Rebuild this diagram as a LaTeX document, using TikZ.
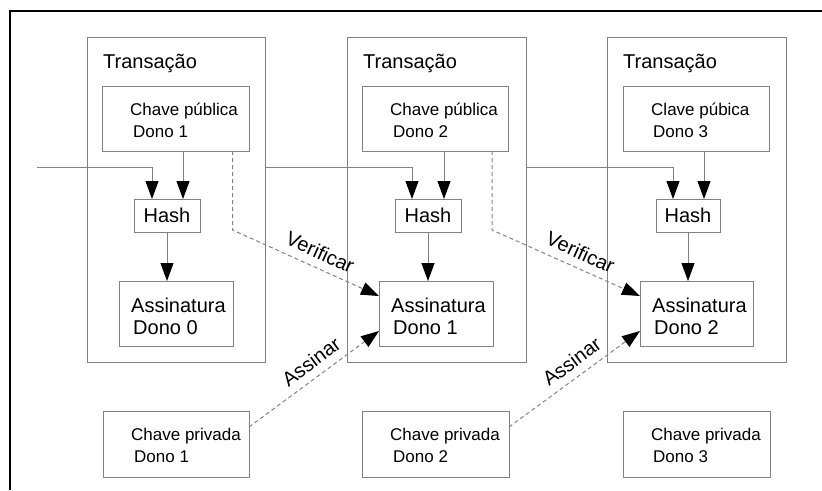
\documentclass[tikz,border=0pt]{standalone}
\usepackage{fontspec}
\setmainfont{Liberation Sans}
\usetikzlibrary{arrows.meta,calc}
\definecolor{linegray}{RGB}{130,130,130}
\begin{document}
\begin{tikzpicture}[x=1pt,y=-1pt,
  box/.style={draw=linegray, line width=1pt, inner sep=0pt, outer sep=0pt, rectangle},
  arr/.style={draw=linegray, line width=1pt, -{Triangle[length=18pt,width=13pt,color=black]}},
  dsh/.style={arr, dash pattern=on 4pt off 3pt},
  big/.style={font=\fontsize{20}{24}\selectfont, inner sep=0pt, anchor=base west},
  small/.style={font=\fontsize{17}{20}\selectfont, inner sep=0pt, anchor=base west},
  lab/.style={font=\fontsize{20}{24}\selectfont, inner sep=0pt, sloped, above=8pt},
  hashbox/.style={box, minimum height=33pt, font=\fontsize{20}{24}\selectfont},
]
\useasboundingbox (0,0) rectangle (822,490);
% frame
\coordinate (fbl) at (10,490);
\coordinate (ftl) at (10,11);
\coordinate (ftr) at (822,11);
\draw[line width=2.5pt] (fbl) -- (ftl) -- (ftr);

% transaction boxes
\node[box, minimum width=178pt, minimum height=325pt] (t1) at (176,199.5) {};
\node[box, minimum width=179pt, minimum height=325pt] (t2) at (436.5,199.5) {};
\node[box, minimum width=179pt, minimum height=325pt] (t3) at (696.5,199.5) {};
\node[big] (t1l) at (103,68) {Transação};
\node[big] (t2l) at (363,68) {Transação};
\node[big] (t3l) at (623,68) {Transação};

% public key boxes
\node[box, minimum width=147pt, minimum height=65pt] (pub1) at (175.5,118.5) {};
\node[box, minimum width=146pt, minimum height=65pt] (pub2) at (435,118.5) {};
\node[box, minimum width=146pt, minimum height=65pt] (pub3) at (696,118.5) {};
\node[small] (pub1a) at (130,115) {Chave pública};
\node[small] (pub1b) at (133,137) {Dono 1};
\node[small] (pub2a) at (390,115) {Chave pública};
\node[small] (pub2b) at (393,137) {Dono 2};
\node[small] (pub3a) at (651,115) {Clave púbica};
\node[small] (pub3b) at (653,137) {Dono 3};

% hash boxes
\node[hashbox, minimum width=66pt] (hash1) at (167,215.5) {Hash};
\node[hashbox, minimum width=66pt] (hash2) at (428,215.5) {Hash};
\node[hashbox, minimum width=64pt] (hash3) at (688,215.5) {Hash};

% signature boxes
\node[box, minimum width=114pt, minimum height=65pt] (sig0) at (176,313.5) {};
\node[box, minimum width=114pt, minimum height=65pt] (sig1) at (436,313.5) {};
\node[box, minimum width=113pt, minimum height=65pt] (sig2) at (696.5,313.5) {};
\node[big] (sig0a) at (131,312) {Assinatura};
\node[big] (sig0b) at (133,334) {Dono 0};
\node[big] (sig1a) at (391,312) {Assinatura};
\node[big] (sig1b) at (393,334) {Dono 1};
\node[big] (sig2a) at (652,312) {Assinatura};
\node[big] (sig2b) at (654,334) {Dono 2};

% private key boxes
\node[box, minimum width=146pt, minimum height=66pt] (priv1) at (176,444) {};
\node[box, minimum width=147pt, minimum height=66pt] (priv2) at (435.5,444) {};
\node[box, minimum width=147pt, minimum height=66pt] (priv3) at (696.5,444) {};
\node[small] (priv1a) at (131,440) {Chave privada};
\node[small] (priv1b) at (134,462) {Dono 1};
\node[small] (priv2a) at (390,440) {Chave privada};
\node[small] (priv2b) at (393,462) {Dono 2};
\node[small] (priv3a) at (651,440) {Chave privada};
\node[small] (priv3b) at (653,462) {Dono 3};

% arrow landing points on hash boxes
\coordinate (h1l) at ([xshift=-15pt]hash1.north);
\coordinate (h1r) at ([xshift=16pt]hash1.north);
\coordinate (h2l) at ([xshift=-16pt]hash2.north);
\coordinate (h2r) at ([xshift=16pt]hash2.north);
\coordinate (h3l) at ([xshift=-15pt]hash3.north);
\coordinate (h3r) at ([xshift=16pt]hash3.north);
\coordinate (feed) at (37,167);

% previous transaction feeds
\draw[arr] (feed) -- (feed -| h1l) -- (h1l);
\draw[arr] (t1.east |- feed) -- (feed -| h2l) -- (h2l);
\draw[arr] (t2.east |- feed) -- (feed -| h3l) -- (h3l);

% public key to hash
\draw[arr] (pub1.south -| h1r) -- (h1r);
\draw[arr] (pub2.south -| h2r) -- (h2r);
\draw[arr] (pub3.south -| h3r) -- (h3r);

% hash to signature
\draw[arr] (hash1.south) -- (hash1.south |- sig0.north);
\draw[arr] (hash2.south) -- (hash2.south |- sig1.north);
\draw[arr] (hash3.south) -- (hash3.south |- sig2.north);

% verify
\coordinate (v1) at ([xshift=-16.5pt]pub1.south east);
\coordinate (v1t) at ([yshift=-15pt]sig1.north west);
\coordinate (v2) at ([xshift=-16pt]pub2.south east);
\coordinate (v2t) at ([yshift=-15pt]sig2.north west);
\draw[dsh] (v1) -- ([yshift=2pt]v1 |- hash1.south) -- node[lab, pos=0.555] (ver1) {Verificar} (v1t);
\draw[dsh] (v2) -- ([yshift=2pt]v2 |- hash2.south) -- node[lab, pos=0.555] (ver2) {Verificar} (v2t);

% sign
\coordinate (s1) at ([yshift=17pt]priv1.east);
\coordinate (s1t) at ([yshift=15pt]sig1.south west);
\coordinate (s2) at ([yshift=17pt]priv2.east);
\coordinate (s2t) at ([yshift=15pt]sig2.south west);
\draw[dsh] (s1) -- node[lab, pos=0.55] (as1) {Assinar} (s1t);
\draw[dsh] (s2) -- node[lab, pos=0.55] (as2) {Assinar} (s2t);
\end{tikzpicture}
\end{document}
